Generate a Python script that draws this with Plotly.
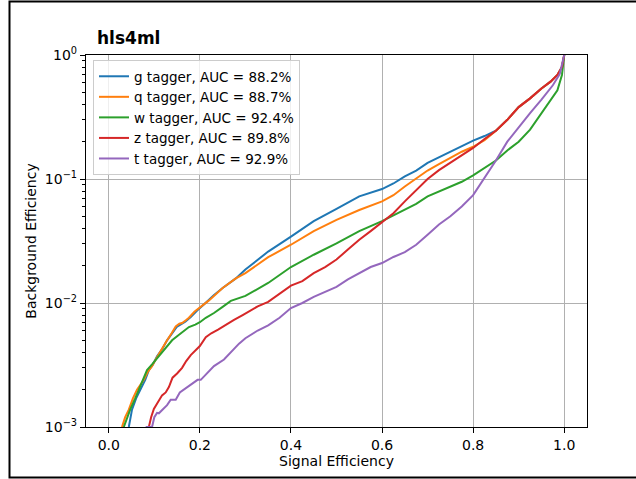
import plotly.graph_objects as go

# ---- data ----
labels = ["g tagger, AUC = 88.2%", "q tagger, AUC = 88.7%", "w tagger, AUC = 92.4%",
          "z tagger, AUC = 89.8%", "t tagger, AUC = 92.9%"]
colors = ["#1f77b4", "#ff7f0e", "#2ca02c", "#d62728", "#9467bd"]

x_g = [0.044, 0.051, 0.060, 0.070, 0.080, 0.088, 0.097, 0.106, 0.118, 0.128, 0.140, 0.150, 0.160, 0.168,
       0.180, 0.194, 0.210, 0.230, 0.250, 0.279, 0.300, 0.350, 0.400, 0.450, 0.500, 0.550, 0.600, 0.625,
       0.650, 0.675, 0.700, 0.725, 0.750, 0.775, 0.800, 0.825, 0.850, 0.875, 0.900, 0.925, 0.950, 0.970,
       0.985, 0.995, 1.000]
y_g = [0.0010, 0.00138, 0.0017, 0.0020, 0.0024, 0.00288, 0.0032, 0.00372, 0.0043, 0.0050, 0.0057, 0.00646,
       0.0068, 0.00708, 0.0077, 0.0087, 0.0098, 0.0115, 0.0132, 0.0158, 0.0186, 0.026, 0.0343, 0.0457, 0.0575,
       0.0724, 0.083, 0.092, 0.105, 0.117, 0.135, 0.150, 0.166, 0.186, 0.204, 0.222, 0.245, 0.30, 0.38, 0.447,
       0.537, 0.61, 0.69, 0.80, 1.0]

x_q = [0.029, 0.036, 0.044, 0.053, 0.062, 0.070, 0.077, 0.086, 0.095, 0.103, 0.110, 0.120, 0.128, 0.138,
       0.147, 0.155, 0.161, 0.170, 0.176, 0.188, 0.198, 0.220, 0.250, 0.279, 0.300, 0.350, 0.400, 0.450,
       0.500, 0.550, 0.600, 0.625, 0.650, 0.675, 0.700, 0.725, 0.750, 0.775, 0.800, 0.825, 0.850, 0.875,
       0.900, 0.925, 0.950, 0.970, 0.985, 0.995, 1.000]
y_q = [0.0010, 0.0012, 0.00138, 0.0017, 0.0020, 0.0022, 0.0024, 0.0028, 0.00309, 0.0035, 0.00389, 0.0045,
       0.0050, 0.0057, 0.00646, 0.0068, 0.0069, 0.0073, 0.0076, 0.0085, 0.0091, 0.0105, 0.0132, 0.0158, 0.0174,
       0.0234, 0.0295, 0.038, 0.0468, 0.0562, 0.066, 0.074, 0.087, 0.101, 0.117, 0.132, 0.148, 0.166, 0.182,
       0.206, 0.245, 0.30, 0.38, 0.447, 0.537, 0.61, 0.69, 0.80, 1.0]

x_w = [0.033, 0.040, 0.047, 0.058, 0.070, 0.084, 0.095, 0.103, 0.112, 0.121, 0.130, 0.139, 0.150, 0.161,
       0.176, 0.190, 0.200, 0.213, 0.231, 0.250, 0.268, 0.300, 0.350, 0.400, 0.450, 0.500, 0.550, 0.600,
       0.625, 0.650, 0.675, 0.700, 0.725, 0.750, 0.775, 0.800, 0.825, 0.850, 0.875, 0.900, 0.925, 0.950,
       0.970, 0.985, 0.995, 1.000]
y_w = [0.0010, 0.0012, 0.00138, 0.0017, 0.00214, 0.00288, 0.0032, 0.00347, 0.0038, 0.00417, 0.0046, 0.0050,
       0.0054, 0.0058, 0.0064, 0.0067, 0.0070, 0.0076, 0.0083, 0.0093, 0.0104, 0.0114, 0.0145, 0.0195, 0.0245,
       0.0302, 0.038, 0.0457, 0.051, 0.0562, 0.063, 0.0724, 0.079, 0.087, 0.095, 0.107, 0.123, 0.141, 0.17,
       0.20, 0.25, 0.339, 0.43, 0.52, 0.69, 1.0]

x_z = [0.088, 0.093, 0.099, 0.108, 0.117, 0.125, 0.132, 0.140, 0.150, 0.161, 0.170, 0.180, 0.190, 0.200,
       0.213, 0.225, 0.240, 0.257, 0.275, 0.294, 0.310, 0.327, 0.350, 0.375, 0.400, 0.425, 0.450, 0.475,
       0.500, 0.525, 0.550, 0.575, 0.600, 0.625, 0.650, 0.675, 0.700, 0.725, 0.750, 0.775, 0.800, 0.825,
       0.850, 0.875, 0.900, 0.925, 0.950, 0.970, 0.985, 0.995, 1.000]
y_z = [0.0010, 0.0012, 0.0014, 0.0016, 0.0018, 0.0019, 0.0021, 0.0025, 0.0027, 0.0030, 0.0034, 0.0038,
       0.0041, 0.0045, 0.0053, 0.0057, 0.0061, 0.0067, 0.0073, 0.0080, 0.0086, 0.0094, 0.0102, 0.0118, 0.0138,
       0.0150, 0.0174, 0.0195, 0.0224, 0.027, 0.0324, 0.038, 0.0447, 0.053, 0.066, 0.081, 0.100, 0.118, 0.135,
       0.155, 0.178, 0.21, 0.245, 0.30, 0.38, 0.447, 0.537, 0.61, 0.69, 0.80, 1.0]

x_t = [0.081, 0.095, 0.100, 0.106, 0.110, 0.120, 0.128, 0.136, 0.147, 0.156, 0.165, 0.180, 0.195, 0.202,
       0.220, 0.231, 0.253, 0.270, 0.286, 0.300, 0.327, 0.350, 0.375, 0.400, 0.425, 0.450, 0.475, 0.500,
       0.525, 0.550, 0.575, 0.600, 0.625, 0.650, 0.675, 0.700, 0.725, 0.750, 0.775, 0.800, 0.825, 0.850,
       0.875, 0.900, 0.925, 0.950, 0.975, 0.990, 1.000]
y_t = [0.0010, 0.0010, 0.0012, 0.0013, 0.00129, 0.0014, 0.0015, 0.00166, 0.00166, 0.0019, 0.0020, 0.0022,
       0.0024, 0.0024, 0.0028, 0.0031, 0.0035, 0.0041, 0.0047, 0.0052, 0.0060, 0.0066, 0.0076, 0.0091, 0.0100,
       0.0112, 0.0123, 0.0135, 0.0155, 0.0174, 0.0195, 0.021, 0.0235, 0.0257, 0.0295, 0.0355, 0.043, 0.050,
       0.060, 0.0741, 0.101, 0.141, 0.20, 0.263, 0.34, 0.437, 0.57, 0.70, 1.0]

x_tickvals = [0.0, 0.2, 0.4, 0.6, 0.8, 1.0]
x_ticktext = ["0.0", "0.2", "0.4", "0.6", "0.8", "1.0"]
y_tickvals = [0.001, 0.01, 0.1, 1]
y_ticktext = ["10<sup>\u22123</sup>", "10<sup>\u22122</sup>", "10<sup>\u22121</sup>", "10<sup>0</sup>"]

series = [(x_g, y_g), (x_q, y_q), (x_w, y_w), (x_z, y_z), (x_t, y_t)]

FONT = "DejaVu Sans"
W, H = 636, 479
L, R, T, B = 86, 587, 55, 427

fig = go.Figure()
for (xs, ys), lab, col in zip(series, labels, colors):
    fig.add_trace(go.Scatter(x=xs, y=ys, mode="lines", name=lab,
                             line=dict(color=col, width=2)))

minor_vals = [m * 10.0 ** e for e in (-3, -2, -1) for m in range(2, 10)]

fig.update_layout(
    width=W, height=H,
    margin=dict(l=L, r=W - R, t=T, b=H - B, pad=0),
    paper_bgcolor="white", plot_bgcolor="white",
    font=dict(family=FONT, size=14, color="black"),
    showlegend=True,
    legend=dict(x=(93 - L) / (R - L), y=(B - 60) / (B - T), xanchor="left", yanchor="top",
                bgcolor="rgba(255,255,255,0.8)", bordercolor="#cccccc", borderwidth=1,
                font=dict(family=FONT, size=13.5, color="black"),
                itemwidth=30, tracegroupgap=0),
    xaxis=dict(range=[-0.05, 1.05], tickmode="array", tickvals=x_tickvals, ticktext=x_ticktext,
               showgrid=True, gridcolor="#b0b0b0", gridwidth=1, zeroline=False,
               ticks="outside", ticklen=5, tickwidth=1, tickcolor="black",
               showline=True, linecolor="black", linewidth=1.2, mirror=True,
               title=dict(text="Signal Efficiency", font=dict(size=14), standoff=4),
               tickfont=dict(size=14)),
    yaxis=dict(type="log", range=[-3, 0], tickmode="array", tickvals=y_tickvals, ticktext=y_ticktext,
               showgrid=True, gridcolor="#b0b0b0", gridwidth=1, zeroline=False,
               ticks="outside", ticklen=5, tickwidth=1, tickcolor="black",
               showline=True, linecolor="black", linewidth=1.2, mirror=True,
               minor=dict(tickvals=minor_vals, ticks="outside", ticklen=3, tickwidth=0.8,
                          tickcolor="black", showgrid=False),
               title=dict(text="Background Efficiency", font=dict(size=14), standoff=4),
               tickfont=dict(size=14)),
    annotations=[dict(text="<b>hls4ml</b>", xref="paper", yref="paper",
                      x=(95 - L) / (R - L), y=(B - 50) / (B - T), xanchor="left", yanchor="bottom",
                      showarrow=False, font=dict(family=FONT, size=17, color="black"))],
    shapes=[dict(type="rect", xref="paper", yref="paper",
                 x0=(9.5 - L) / (R - L), x1=(645 - L) / (R - L),
                 y0=(B - 477.5) / (B - T), y1=(B - 1.5) / (B - T),
                 line=dict(color="black", width=2), fillcolor="rgba(0,0,0,0)", layer="above")],
)

fig.write_html("out.html")
